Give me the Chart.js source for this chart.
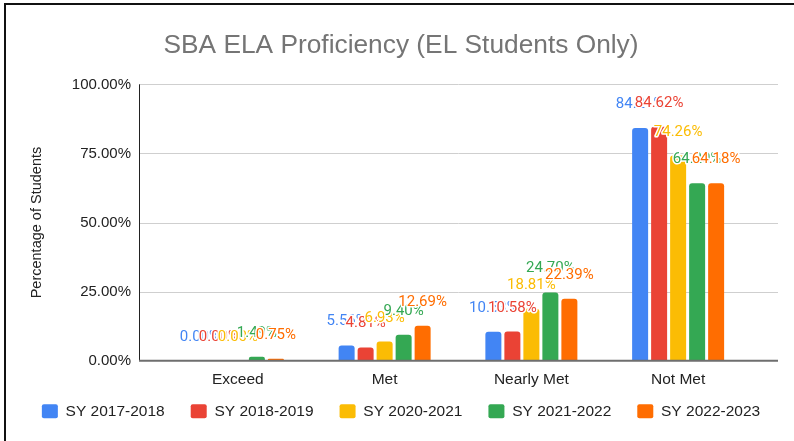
<!DOCTYPE html>
<html>
<head>
<meta charset="utf-8">
<script src="https://cdn.jsdelivr.net/npm/chart.js@4.4.1/dist/chart.umd.min.js"></script>
<style>
  html, body { margin: 0; padding: 0; background: #fff; overflow: hidden; }
  #wrap { position: relative; width: 794px; height: 441px; overflow: hidden; }
  #chart { display: block; }
  #frame {
    position: absolute; left: 4px; top: 3px; width: 800px; height: 460px;
    border-left: 2px solid #111; border-top: 2px solid #111; pointer-events: none;
  }
</style>
</head>
<body>
<div id="wrap">
  <canvas id="chart" width="794" height="460"></canvas>
  <div id="frame"></div>
</div>
<script>
// chart data
const categories = ['Exceed', 'Met', 'Nearly Met', 'Not Met'];
const seriesNames = ['SY 2017-2018', 'SY 2018-2019', 'SY 2020-2021', 'SY 2021-2022', 'SY 2022-2023'];
const sy1718 = [0.00, 5.56, 10.53, 84.21];
const sy1819 = [0.00, 4.81, 10.58, 84.62];
const sy2021 = [0.00, 6.93, 18.81, 74.26];
const sy2122 = [1.49, 9.40, 24.70, 64.20];
const sy2223 = [0.75, 12.69, 22.39, 64.18];
const yTicks = [0, 25, 50, 75, 100];

const colors = ['#4285F4', '#EA4335', '#FBBC04', '#34A853', '#FF6D01'];
const allSeries = [sy1718, sy1819, sy2021, sy2122, sy2223];

// gridlines run a bit past the category area, like the sheets chart
const gridLines = {
    id: 'gridLines',
    afterLayout(chart) {
        // pull the legend up closer to the axis labels
        const lg = chart.legend;
        const dy = chart.chartArea.bottom + 16.75 - lg.top;
        lg.top += dy;
        lg.bottom += dy;
    },
    beforeDatasetsDraw(chart) {
        const { ctx, chartArea, scales: { y } } = chart;
        const x0 = chartArea.left - 25.5;
        const x1 = chartArea.right + 26.5;
        ctx.save();
        ctx.lineWidth = 1;
        ctx.strokeStyle = '#cfcfcf';
        yTicks.forEach(v => {
            if (v === 0) return;
            const py = Math.round(y.getPixelForValue(v)) + 0.5;
            ctx.beginPath();
            ctx.moveTo(x0, py);
            ctx.lineTo(x1, py);
            ctx.stroke();
        });
        // vertical axis line
        ctx.strokeStyle = '#222';
        ctx.beginPath();
        ctx.moveTo(Math.round(x0) + 0.5, y.getPixelForValue(100));
        ctx.lineTo(Math.round(x0) + 0.5, y.getPixelForValue(0));
        ctx.stroke();
        ctx.restore();
    },
    afterDatasetsDraw(chart) {
        const { ctx, chartArea, scales: { y } } = chart;
        const x0 = chartArea.left - 25.5;
        const x1 = chartArea.right + 26.5;
        const py = y.getPixelForValue(0);
        ctx.save();
        ctx.strokeStyle = '#6e6e6e';
        ctx.lineWidth = 2;
        ctx.beginPath();
        ctx.moveTo(x0, py);
        ctx.lineTo(x1, py);
        ctx.stroke();
        ctx.restore();
    }
};

// value labels above each bar with a white halo
const barLabels = {
    id: 'barLabels',
    afterDatasetsDraw(chart) {
        const { ctx } = chart;
        ctx.save();
        ctx.font = '15px Roboto';
        ctx.textAlign = 'center';
        ctx.textBaseline = 'alphabetic';
        ctx.lineJoin = 'round';
        chart.data.datasets.forEach((ds, i) => {
            const meta = chart.getDatasetMeta(i);
            meta.data.forEach((bar, j) => {
                const txt = ds.data[j].toFixed(2) + '%';
                const ty = bar.y - 20;
                ctx.lineWidth = 3;
                ctx.strokeStyle = '#fff';
                ctx.strokeText(txt, bar.x, ty);
                ctx.fillStyle = colors[i];
                ctx.fillText(txt, bar.x, ty);
            });
        });
        ctx.restore();
    }
};

Chart.defaults.font.family = '"Liberation Sans", Arial, sans-serif';
Chart.defaults.color = '#222';

const ctx = document.getElementById('chart').getContext('2d');
new Chart(ctx, {
    type: 'bar',
    data: {
        labels: categories,
        datasets: allSeries.map((vals, i) => ({
            label: seriesNames[i],
            data: vals,
            backgroundColor: colors[i],
            borderWidth: 0,
            borderRadius: 3,
            categoryPercentage: 0.6474,
            barPercentage: 0.8421
        }))
    },
    options: {
        responsive: false,
        devicePixelRatio: 1,
        animation: false,
        layout: { padding: { left: 8, right: 0, top: 0, bottom: 17.15 } },
        plugins: {
            title: {
                display: true,
                text: 'SBA ELA Proficiency (EL Students Only)',
                color: '#757575',
                font: { size: 26.3, weight: 'normal' },
                padding: { top: 29.5, bottom: 23.3 }
            },
            legend: {
                position: 'bottom',
                labels: {
                    boxWidth: 16,
                    boxHeight: 14,
                    padding: 26,
                    useBorderRadius: true,
                    borderRadius: 2,
                    color: '#222',
                    font: { size: 15.5 }
                }
            },
            tooltip: { enabled: false }
        },
        scales: {
            x: {
                grid: { display: false },
                border: { display: false },
                ticks: { padding: 2, color: '#222', font: { size: 15.5 } }
            },
            y: {
                min: 0,
                max: 100,
                afterBuildTicks(scale) { scale.ticks = yTicks.map(v => ({ value: v })); },
                grid: { display: false, drawTicks: false },
                border: { display: false },
                ticks: {
                    padding: 33.5,
                    color: '#222',
                    font: { size: 15 },
                    callback: v => v.toFixed(2) + '%'
                },
                title: {
                    display: true,
                    text: 'Percentage of Students',
                    color: '#222',
                    font: { size: 14.5 },
                    padding: { top: 20.3, bottom: 0 }
                },
                afterFit(scale) { scale.width = 156.5; }
            },
            yRight: {
                type: 'linear',
                position: 'right',
                display: true,
                grid: { display: false, drawTicks: false },
                border: { display: false },
                ticks: { display: false },
                afterFit(scale) { scale.width = 42.5; }
            }
        }
    },
    plugins: [gridLines, barLabels]
});
</script>
</body>
</html>
